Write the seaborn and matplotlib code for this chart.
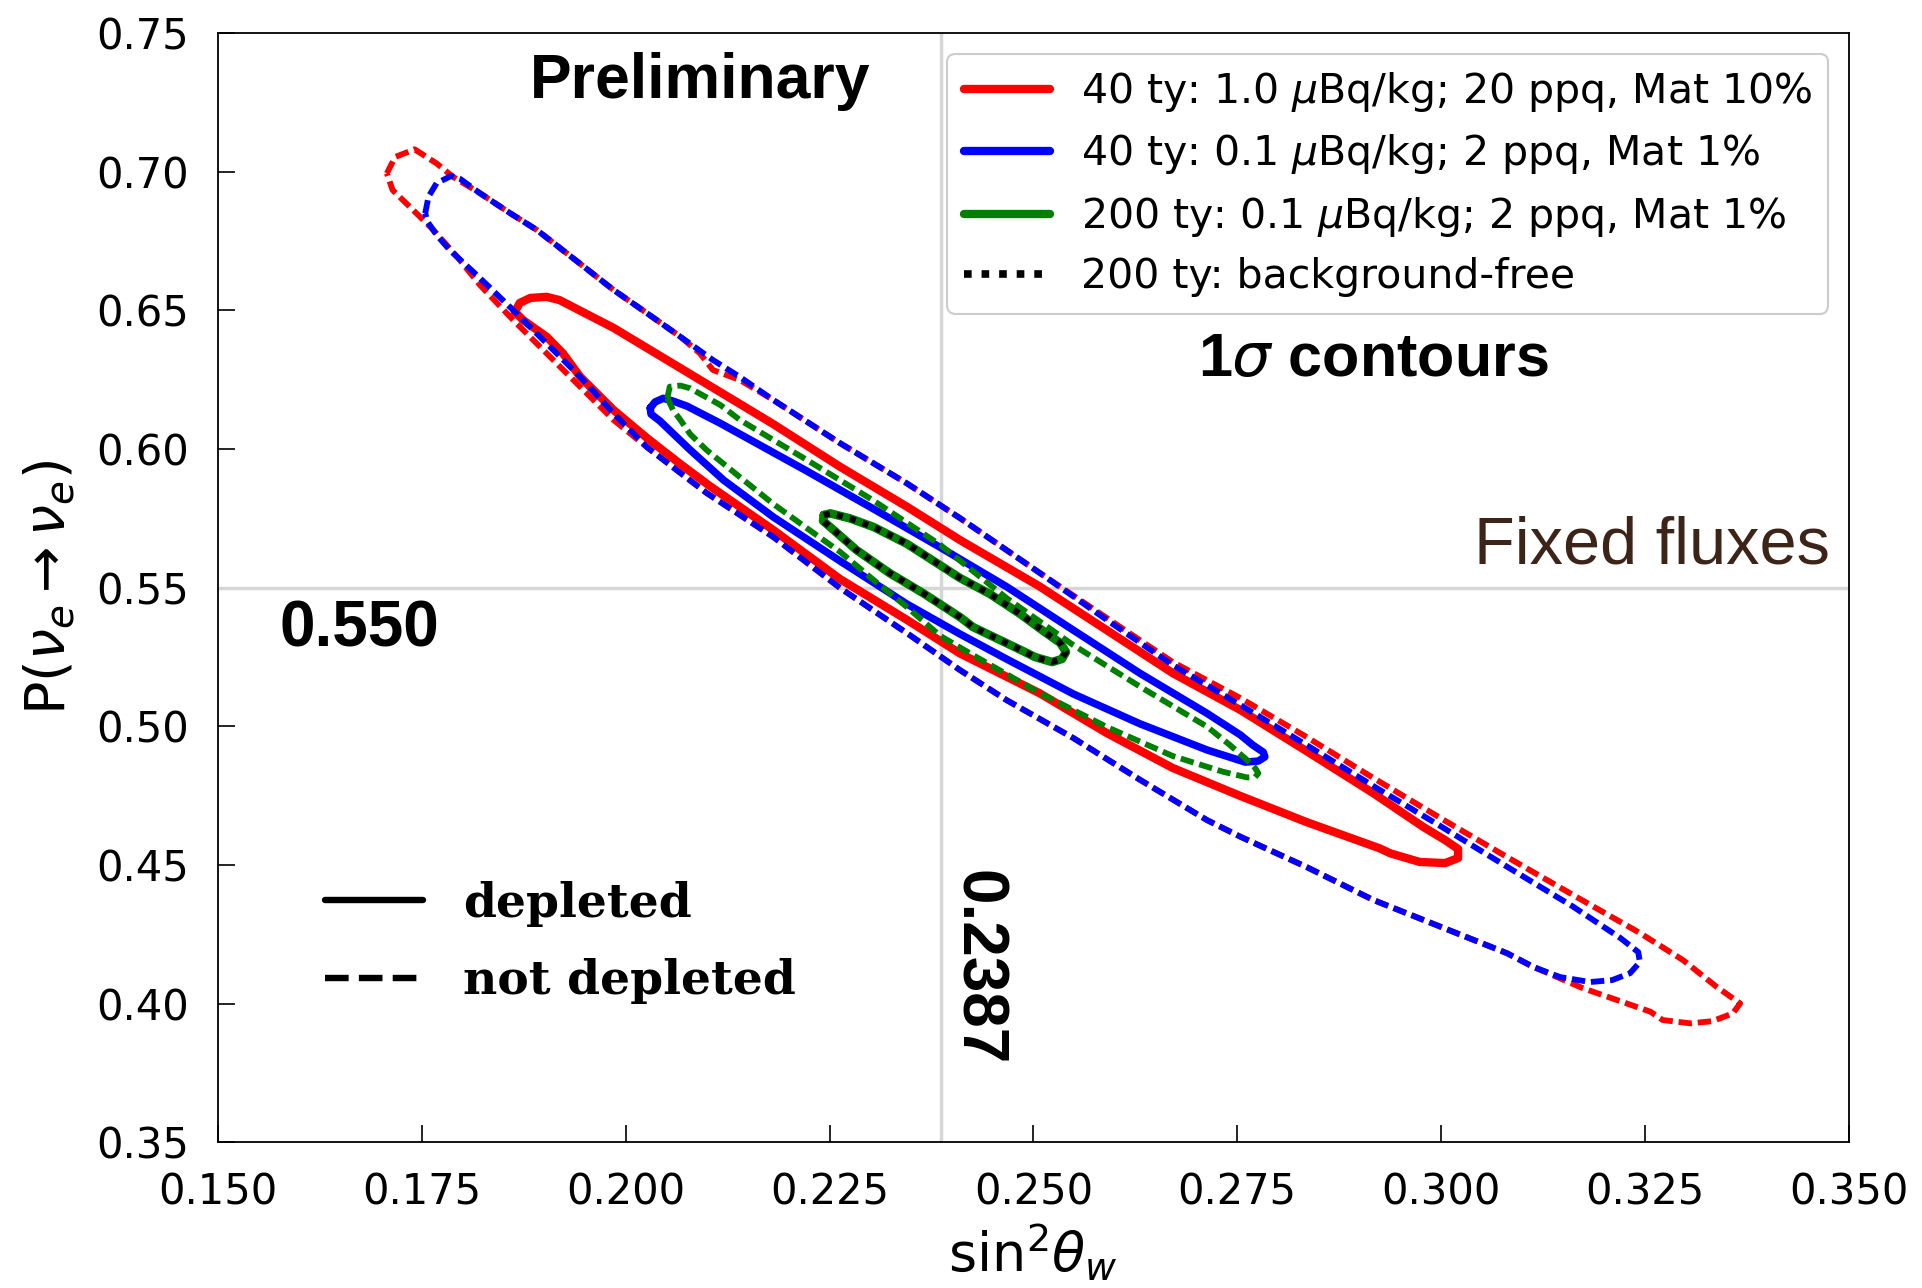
import matplotlib
matplotlib.use("Agg")
import matplotlib.pyplot as plt
import pandas as pd
import seaborn as sns
from matplotlib.lines import Line2D

# ---------------- data ----------------
x_ticks = [0.150, 0.175, 0.200, 0.225, 0.250, 0.275, 0.300, 0.325, 0.350]
y_ticks = [0.35, 0.40, 0.45, 0.50, 0.55, 0.60, 0.65, 0.70, 0.75]
sin2w_ref = 0.2387
pee_ref = 0.550

legend_labels = [
    r"40 ty: 1.0 $\mu$Bq/kg; 20 ppq, Mat 10%",
    r"40 ty: 0.1 $\mu$Bq/kg; 2 ppq, Mat 1%",
    r"200 ty: 0.1 $\mu$Bq/kg; 2 ppq, Mat 1%",
    "200 ty: background-free",
]

# 40 ty, 1.0 uBq/kg, 20 ppq, Mat 10% -- not depleted (dashed)
red_not_depleted = [
    (0.1707, 0.6994), (0.1717, 0.7053), (0.1741, 0.7081), (0.1768, 0.7030), (0.1788, 0.6982),
    (0.1821, 0.6923), (0.1858, 0.6851), (0.1891, 0.6790), (0.1932, 0.6696), (0.1985, 0.6574),
    (0.2026, 0.6490), (0.2067, 0.6405), (0.2091, 0.6345), (0.2107, 0.6285), (0.2140, 0.6249),
    (0.2181, 0.6177), (0.2263, 0.6021), (0.2345, 0.5876), (0.2410, 0.5751), (0.2508, 0.5553),
    (0.2590, 0.5391), (0.2671, 0.5232), (0.2754, 0.5102), (0.2835, 0.4962), (0.2917, 0.4814),
    (0.2999, 0.4670), (0.3081, 0.4529), (0.3162, 0.4392), (0.3244, 0.4255), (0.3297, 0.4157),
    (0.3338, 0.4061), (0.3367, 0.4001), (0.3358, 0.3965), (0.3333, 0.3937), (0.3306, 0.3929),
    (0.3272, 0.3941), (0.3257, 0.3971), (0.3174, 0.4056), (0.3113, 0.4133), (0.3081, 0.4182),
    (0.2999, 0.4278), (0.2917, 0.4374), (0.2835, 0.4493), (0.2754, 0.4602), (0.2713, 0.4662),
    (0.2631, 0.4807), (0.2549, 0.4958), (0.2467, 0.5095), (0.2410, 0.5203), (0.2345, 0.5336),
    (0.2263, 0.5499), (0.2181, 0.5683), (0.2099, 0.5842), (0.2067, 0.5914), (0.2026, 0.6007),
    (0.1985, 0.6105), (0.1944, 0.6225), (0.1903, 0.6345), (0.1862, 0.6465), (0.1821, 0.6592),
    (0.1793, 0.6694), (0.1764, 0.6790), (0.1735, 0.6874), (0.1714, 0.6934),
]

# 40 ty, 0.1 uBq/kg, 2 ppq, Mat 1% -- not depleted (dashed)
blue_not_depleted = [
    (0.1754, 0.6850), (0.1758, 0.6910), (0.1768, 0.6959), (0.1786, 0.6985), (0.1797, 0.6974),
    (0.1821, 0.6923), (0.1858, 0.6851), (0.1891, 0.6790), (0.1932, 0.6696), (0.1985, 0.6574),
    (0.2026, 0.6490), (0.2067, 0.6405), (0.2107, 0.6321), (0.2140, 0.6260), (0.2181, 0.6177),
    (0.2263, 0.6021), (0.2345, 0.5876), (0.2410, 0.5751), (0.2508, 0.5553), (0.2590, 0.5384),
    (0.2671, 0.5221), (0.2754, 0.5077), (0.2835, 0.4933), (0.2917, 0.4785), (0.2999, 0.4641),
    (0.3081, 0.4494), (0.3162, 0.4350), (0.3220, 0.4237), (0.3242, 0.4186), (0.3244, 0.4150),
    (0.3232, 0.4110), (0.3210, 0.4085), (0.3183, 0.4078), (0.3146, 0.4096), (0.3113, 0.4133),
    (0.3081, 0.4182), (0.2999, 0.4278), (0.2917, 0.4374), (0.2835, 0.4493), (0.2754, 0.4602),
    (0.2713, 0.4662), (0.2631, 0.4807), (0.2549, 0.4958), (0.2467, 0.5095), (0.2410, 0.5203),
    (0.2345, 0.5336), (0.2263, 0.5499), (0.2181, 0.5683), (0.2099, 0.5842), (0.2067, 0.5914),
    (0.2026, 0.6007), (0.1985, 0.6129), (0.1944, 0.6261), (0.1903, 0.6381), (0.1862, 0.6501),
    (0.1821, 0.6617), (0.1784, 0.6718), (0.1768, 0.6772), (0.1757, 0.6819),
]

# 40 ty, 1.0 uBq/kg -- depleted (solid)
red_depleted = [
    (0.1864, 0.6495), (0.1870, 0.6527), (0.1883, 0.6545), (0.1903, 0.6549), (0.1919, 0.6537),
    (0.1985, 0.6437), (0.2067, 0.6292), (0.2132, 0.6177), (0.2181, 0.6090), (0.2263, 0.5936),
    (0.2345, 0.5792), (0.2410, 0.5672), (0.2508, 0.5504), (0.2590, 0.5347), (0.2671, 0.5192),
    (0.2754, 0.5059), (0.2835, 0.4911), (0.2917, 0.4759), (0.2978, 0.4638), (0.3005, 0.4590),
    (0.3021, 0.4558), (0.3021, 0.4525), (0.3005, 0.4507), (0.2974, 0.4511), (0.2938, 0.4542),
    (0.2925, 0.4560), (0.2835, 0.4655), (0.2754, 0.4749), (0.2671, 0.4850), (0.2590, 0.4976),
    (0.2508, 0.5119), (0.2410, 0.5263), (0.2345, 0.5384), (0.2263, 0.5531), (0.2181, 0.5708),
    (0.2103, 0.5867), (0.2067, 0.5946), (0.2026, 0.6040), (0.1985, 0.6141), (0.1944, 0.6261),
    (0.1923, 0.6345), (0.1903, 0.6405), (0.1874, 0.6465),
]

# 40 ty, 0.1 uBq/kg -- depleted (solid)
blue_depleted = [
    (0.2030, 0.6148), (0.2036, 0.6170), (0.2046, 0.6183), (0.2058, 0.6173), (0.2075, 0.6155),
    (0.2116, 0.6093), (0.2140, 0.6054), (0.2222, 0.5921), (0.2304, 0.5784), (0.2386, 0.5645),
    (0.2467, 0.5504), (0.2549, 0.5347), (0.2631, 0.5191), (0.2713, 0.5047), (0.2754, 0.4969),
    (0.2769, 0.4933), (0.2782, 0.4907), (0.2784, 0.4890), (0.2776, 0.4875), (0.2760, 0.4871),
    (0.2713, 0.4915), (0.2631, 0.5009), (0.2549, 0.5117), (0.2467, 0.5243), (0.2410, 0.5333),
    (0.2345, 0.5441), (0.2263, 0.5596), (0.2181, 0.5755), (0.2120, 0.5888), (0.2079, 0.5997),
    (0.2042, 0.6101), (0.2031, 0.6126),
]

# 200 ty, 0.1 uBq/kg -- not depleted (dashed)
green_not_depleted = [
    (0.2051, 0.6184), (0.2054, 0.6225), (0.2067, 0.6229), (0.2079, 0.6219), (0.2116, 0.6159),
    (0.2140, 0.6105), (0.2222, 0.5961), (0.2303, 0.5816), (0.2386, 0.5654), (0.2467, 0.5463),
    (0.2549, 0.5293), (0.2631, 0.5143), (0.2713, 0.4999), (0.2741, 0.4933), (0.2762, 0.4879),
    (0.2772, 0.4850), (0.2776, 0.4831), (0.2772, 0.4817), (0.2762, 0.4816), (0.2733, 0.4836),
    (0.2671, 0.4893), (0.2590, 0.4998), (0.2508, 0.5120), (0.2426, 0.5257), (0.2386, 0.5326),
    (0.2345, 0.5430), (0.2304, 0.5528), (0.2263, 0.5629), (0.2222, 0.5715), (0.2181, 0.5802),
    (0.2140, 0.5899), (0.2099, 0.5997), (0.2079, 0.6054), (0.2067, 0.6105), (0.2058, 0.6141),
]

# 200 ty, 0.1 uBq/kg -- depleted (solid)
green_depleted = [
    (0.2243, 0.5762), (0.2251, 0.5768), (0.2275, 0.5750), (0.2304, 0.5719), (0.2345, 0.5658),
    (0.2410, 0.5535), (0.2447, 0.5477), (0.2484, 0.5405), (0.2514, 0.5340), (0.2533, 0.5301),
    (0.2540, 0.5268), (0.2535, 0.5243), (0.2523, 0.5232), (0.2502, 0.5250), (0.2487, 0.5272),
    (0.2426, 0.5358), (0.2410, 0.5394), (0.2365, 0.5480), (0.2324, 0.5552), (0.2283, 0.5636),
    (0.2255, 0.5708), (0.2242, 0.5741),
]

# 200 ty, background-free (dotted)
black_background_free = [
    (0.2243, 0.5762), (0.2251, 0.5768), (0.2275, 0.5750), (0.2304, 0.5719), (0.2345, 0.5658),
    (0.2410, 0.5535), (0.2447, 0.5477), (0.2484, 0.5405), (0.2514, 0.5340), (0.2533, 0.5301),
    (0.2540, 0.5268), (0.2535, 0.5243), (0.2523, 0.5232), (0.2502, 0.5250), (0.2487, 0.5272),
    (0.2426, 0.5358), (0.2410, 0.5394), (0.2365, 0.5480), (0.2324, 0.5552), (0.2283, 0.5636),
    (0.2255, 0.5708), (0.2242, 0.5741),
]

# ---------------- style ----------------
sns.set_theme(style="ticks")
plt.rcParams["font.family"] = ["DejaVu Sans"]
plt.rcParams["mathtext.fontset"] = "dejavusans"
plt.rcParams["axes.linewidth"] = 1.3
plt.rcParams["text.color"] = "black"
plt.rcParams["axes.labelcolor"] = "black"
plt.rcParams["xtick.color"] = "black"
plt.rcParams["ytick.color"] = "black"

fig = plt.figure(figsize=(19.22, 12.88), dpi=100)
ax = fig.add_axes([0.1135, 0.1131, 0.8483, 0.8612])


def closed(points):
    df = pd.DataFrame(points, columns=["x", "y"])
    return pd.concat([df, df.iloc[:1]], ignore_index=True)


DASH = (0, (2.3, 1.0))
DOT = (0, (1.0, 1.2))

contours = [
    (red_depleted, "red", 6.0, "-", 3),
    (blue_depleted, "blue", 5.4, "-", 3.1),
    (green_depleted, "green", 6.2, "-", 3.2),
    (red_not_depleted, "red", 4.2, DASH, 4),
    (blue_not_depleted, "blue", 4.2, DASH, 4.1),
    (green_not_depleted, "green", 4.2, DASH, 4.2),
    (black_background_free, "black", 4.4, DOT, 5),
]
for pts, col, lw, ls, z in contours:
    sns.lineplot(data=closed(pts), x="x", y="y", sort=False, estimator=None,
                 color=col, lw=lw, linestyle=ls, zorder=z, ax=ax)

ax.axvline(sin2w_ref, color="#d6d6d6", lw=2.5, zorder=1)
ax.axhline(pee_ref, color="#d6d6d6", lw=2.5, zorder=1)

ax.set_xlim(0.15, 0.35)
ax.set_ylim(0.35, 0.75)
ax.set_xticks(x_ticks)
ax.set_yticks(y_ticks)
ax.set_xticklabels([f"{v:.3f}" for v in x_ticks])
ax.set_yticklabels([f"{v:.2f}" for v in y_ticks])
ax.tick_params(direction="in", length=12, width=1.2, pad=21, labelsize=30,
               top=False, right=False, colors="black")
for s in ax.spines.values():
    s.set_visible(True)
    s.set_color("black")
    s.set_linewidth(1.3)

ax.set_xlabel(r"sin$^2\theta_w$", fontsize=39, color="black")
ax.set_ylabel(r"P($\nu_e \rightarrow \nu_e$)", fontsize=40, color="black")
ax.xaxis.set_label_coords(0.5, -0.071)
ax.yaxis.set_label_coords(-0.087, 0.5)

# main legend
handles = [
    Line2D([], [], color="red", lw=6.0),
    Line2D([], [], color="blue", lw=6.0),
    Line2D([], [], color="green", lw=6.0),
    Line2D([], [], color="black", lw=5.5, linestyle=(0, (1.0, 1.3))),
]
leg1 = ax.legend(handles, legend_labels, loc="upper right", fontsize=29.5,
                 handlelength=2.1, handletextpad=0.75, labelspacing=0.45,
                 borderpad=0.4, borderaxespad=0.5, frameon=True, fancybox=True,
                 edgecolor="#cccccc", framealpha=1.0, labelcolor="black")
leg1.get_frame().set_linewidth(1.5)
leg1.set_zorder(10)
ax.add_artist(leg1)

# depleted / not depleted legend
h2 = [Line2D([], [], color="black", lw=4.6),
      Line2D([], [], color="black", lw=4.6, linestyle="--")]
leg2 = ax.legend(h2, ["depleted", "not depleted"], loc="upper left",
                 bbox_to_anchor=(0.054, 0.2528), borderaxespad=0.0,
                 frameon=False, handlelength=2.07, handletextpad=0.85,
                 labelspacing=0.67, labelcolor="black",
                 prop={"family": "DejaVu Serif", "weight": "bold", "size": 34})
leg2.set_zorder(10)

# annotations
ax.text(0.2955, 0.9415, "Preliminary", transform=ax.transAxes, ha="center",
        va="baseline", fontsize=45, fontweight="bold", family="Liberation Sans",
        color="black", zorder=11)
ax.text(0.7083, 0.6909, r"1$\sigma$ contours", transform=ax.transAxes, ha="center",
        va="baseline", fontsize=44, fontweight="bold", family="Liberation Sans",
        color="black", zorder=11)
ax.text(0.9887, 0.5214, "Fixed fluxes", transform=ax.transAxes, ha="right",
        va="baseline", fontsize=48, color="#3d2418", family="Liberation Sans", zorder=11)
ax.text(0.0376, 0.4466, "0.550", transform=ax.transAxes, ha="left",
        va="baseline", fontsize=46, fontweight="bold", family="Liberation Sans",
        color="black", zorder=11)
ax.text(0.4654, 0.1572, "0.2387", transform=ax.transAxes, ha="center",
        va="center", rotation=270, fontsize=46, fontweight="bold",
        family="Liberation Sans", color="black", zorder=11)

fig.savefig("out.png", dpi=100)
